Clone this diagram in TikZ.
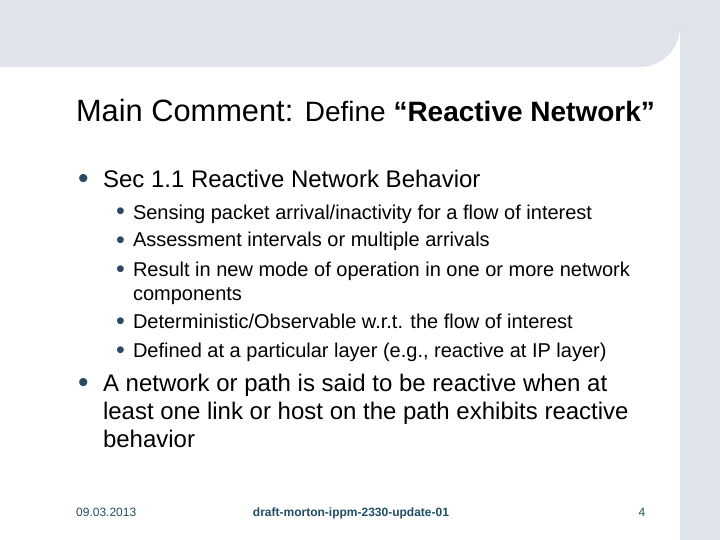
\documentclass[tikz,border=0pt]{standalone}
\usepackage{fontspec}
\setmainfont{Liberation Sans}
\definecolor{bgc}{HTML}{DFE4EA}
\definecolor{foot}{HTML}{1F4E66}
\definecolor{bul}{HTML}{2A4A63}
\begin{document}
\begin{tikzpicture}[x=1pt,y=-1pt,
  t/.style={anchor=base west,inner sep=0,outer sep=0},
  l1/.style={t,font=\fontsize{24}{28}\selectfont},
  l2/.style={t,font=\fontsize{20}{24}\selectfont},
  b1/.style={t,font=\fontsize{30}{30}\selectfont,text=bul},
  b2/.style={t,font=\fontsize{25}{25}\selectfont,text=bul},
  ft/.style={font=\fontsize{12}{14}\selectfont,text=foot,inner sep=0,anchor=base}]
\useasboundingbox (0,0) rectangle (720,540);
\fill[bgc] (0,0) rectangle (720,540);
\fill[white] (0,540) -- (0,67) -- (640,67) arc[start angle=90,end angle=0,radius=40] -- (680,540) -- cycle;
\node[t,font=\fontsize{30.8}{34}\selectfont] (title) at (76,122) {Main Comment: {\fontsize{28}{32}\selectfont Define \textbf{“Reactive Network”}}};
\node[b1] (p1) at (78,189) {•};
\node[l1] (s1) at (103,188) {Sec 1.1 Reactive Network Behavior};
\node[b2] (p2) at (116,220) {•};
\node[l2] (s2) at (133,219) {Sensing packet arrival/inactivity for a flow of interest};
\node[b2] (p3) at (116,248) {•};
\node[l2] (s3) at (133,247) {Assessment intervals or multiple arrivals};
\node[b2] (p4) at (116,277) {•};
\node[l2] (s4) at (133,276) {Result in new mode of operation in one or more network};
\node[l2] (s4b) at (133,300) {components};
\node[b2] (p5) at (116,329) {•};
\node[l2] (s5) at (133,328) {Deterministic/Observable w.r.t. the flow of interest};
\node[b2] (p6) at (116,358) {•};
\node[l2] (s6) at (133,357) {Defined at a particular layer (e.g., reactive at IP layer)};
\node[b1] (p7) at (78,392) {•};
\node[l1] (s7) at (103,391) {A network or path is said to be reactive when at};
\node[l1] (s7b) at (103,419) {least one link or host on the path exhibits reactive};
\node[l1] (s7c) at (103,447) {behavior};
\node[ft,anchor=base west] (d) at (76,516) {09.03.2013};
\node[ft,font=\bfseries\fontsize{12}{14}\selectfont] (n) at (351,516) {draft-morton-ippm-2330-update-01};
\node[ft] (pg) at (642,516) {4};
\end{tikzpicture}
\end{document}
